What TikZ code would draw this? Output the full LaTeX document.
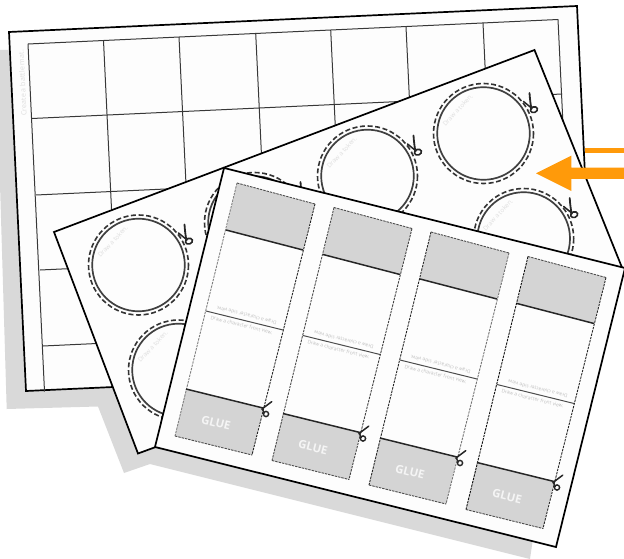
\documentclass[tikz,border=0pt]{standalone}
\usepackage{fontspec}
\setmainfont{Open Sans}
\definecolor{shadowgray}{HTML}{D9D9D9}
\definecolor{sheetwhite}{HTML}{FDFDFD}
\definecolor{bandgray}{HTML}{D4D4D4}
\definecolor{arroworange}{HTML}{FF9A0A}
\definecolor{gridline}{HTML}{383838}
\definecolor{faint}{HTML}{DEDEDE}
\tikzset{
  sheet/.style={draw=black,fill=sheetwhite,line width=1.7pt,line join=miter},
  gridrule/.style={draw=gridline,line width=1pt},
  ruleheavy/.style={draw=black!85,line width=1.5pt},
  rulemid/.style={draw=black!70,line width=1pt},
  dashrule/.style={line width=0.9pt,dash pattern=on 2.4pt off 1pt},
  cutcircle/.style={draw=black!80,line width=1.6pt,dash pattern=on 5pt off 2.6pt},
  tokencircle/.style={draw=black!75,line width=1.7pt},
  tinytext/.style={text=faint,font=\fontsize{6.3}{7}\selectfont,inner sep=0pt},
  striptext/.style={text=black!25,font=\fontsize{4.9}{6}\selectfont,inner sep=0pt,rotate=-14},
  gluetext/.style={text=black!4,font=\fontsize{11.5}{13}\selectfont\bfseries,inner sep=0pt,rotate=-14},
  roundsnip/.pic={
    \draw[black!85,line width=1.8pt,line cap=round] (-3.5,-17) .. controls (-3,-10) and (-2.5,-6) .. (-1.5,-1);
    \draw[black!85,line width=1.5pt,line cap=round] (-9.5,-8.5) -- (-1.5,-2);
    \draw[black!85,line width=1.6pt,rotate=20] (1,0) ellipse (3.6 and 2.8);
  },
  stripsnip/.pic={
    \draw[black!85,line width=1.5pt,line cap=round] (5.7,-12.3) -- (-4,-5);
    \draw[black!85,line width=1.3pt,line cap=round] (-4,-5) -- (-1.5,-1);
    \draw[black!85,line width=1.4pt] (0,0) circle (2.6);
  },
}
\begin{document}
\begin{tikzpicture}[x=1pt,y=-1pt]
\useasboundingbox (0,0) rectangle (624,559);
\clip (0,0) rectangle (624,559);
% shadow
\fill[shadowgray] (-4,50) -- (20,50) -- (533.5,535) -- (530,559) -- (312,504.5) -- (150,464) -- (124,473) -- (98,406.5) -- (6.7,409) -- cycle;
% battle mat sheet
\draw[sheet] (9,32) -- (577,6) -- (594,365) -- (26,391) -- cycle;
\foreach \xa/\ya in {28/44,103.5/40.5,179/37,255.7/33.3,330.7/30,406/26.7,483/23,558/19.5}{
  \draw[gridrule] (\xa,\ya) -- ({\xa+16.5},{\ya+347.5});
}
\draw[gridrule] (28,44) -- (558,19.5);
\foreach \xa/\ya in {32/118.5,36/195,40/270,43/346}{
  \draw[gridrule] (\xa,\ya) -- ({\xa+530},{\ya-24.5});
}
\node[tinytext,font=\fontsize{7.2}{8}\selectfont,rotate=92.7] (matlabel) at (22.5,83) {Create a battle mat.};
% token sheet
\draw[sheet] (54,232) -- (534.5,50) -- (625,275) -- (138,453.5) -- cycle;
\foreach \cx/\cy in {138.5/265,254.5/222.5,367.5/176,483.5/133.5,178.5/370,523.7/238.5}{
  \begin{scope}[shift={(\cx,\cy)}]
    \draw[tokencircle] (0,0) circle (46.3);
    \draw[cutcircle] (0,0) circle (50);
    \path (49.5,-23.5) pic {roundsnip};
    \node[tinytext,rotate=47] at (-25.8,-23.5) {Draw a token.};
  \end{scope}
}
% character sheet
\draw[sheet] (224,168) -- (625,268) -- (556,547) -- (155,447) -- cycle;
\foreach \i/\lc/\rc in {0/black!50/black!85,1/black!70/black!75,2/black!85/black!55,3/black!95/black!85}{
  \begin{scope}[shift={({97*\i},{24.5*\i})}]
    \fill[bandgray] (237,183) -- (315,204) -- (303,250) -- (226,230) -- cycle;
    \fill[bandgray] (186,389) -- (263,408) -- (252,455) -- (175,436) -- cycle;
    \draw[dashrule,draw=\lc] (237,183) -- (175,436);
    \draw[dashrule,draw=\rc] (315,204) -- (252,455);
    \draw[dashrule,draw=black!70] (237,183) -- (315,204);
    \draw[dashrule,draw=black!70] (175,436) -- (252,455);
    \draw[ruleheavy] (226,230) -- (303,250);
    \draw[ruleheavy] (186,389) -- (263,408);
    \draw[rulemid] (206,311) -- (283,330);
    \node[striptext] at (241.7,325) {Draw a character front view.};
    \node[striptext,rotate=180] at (246.5,315.5) {Draw a character side view.};
    \node[gluetext] at (216,422.7) {GLUE};
    \path (266,414) pic {stripsnip};
  \end{scope}
}
% arrow
\fill[arroworange] (585,147.7) rectangle (624,153.3);
\fill[arroworange] (536,173.3) -- (571.3,155.7) -- (571.3,167.7) -- (624,167.7) -- (624,179) -- (571.3,179) -- (571.3,191) -- cycle;
\end{tikzpicture}
\end{document}
